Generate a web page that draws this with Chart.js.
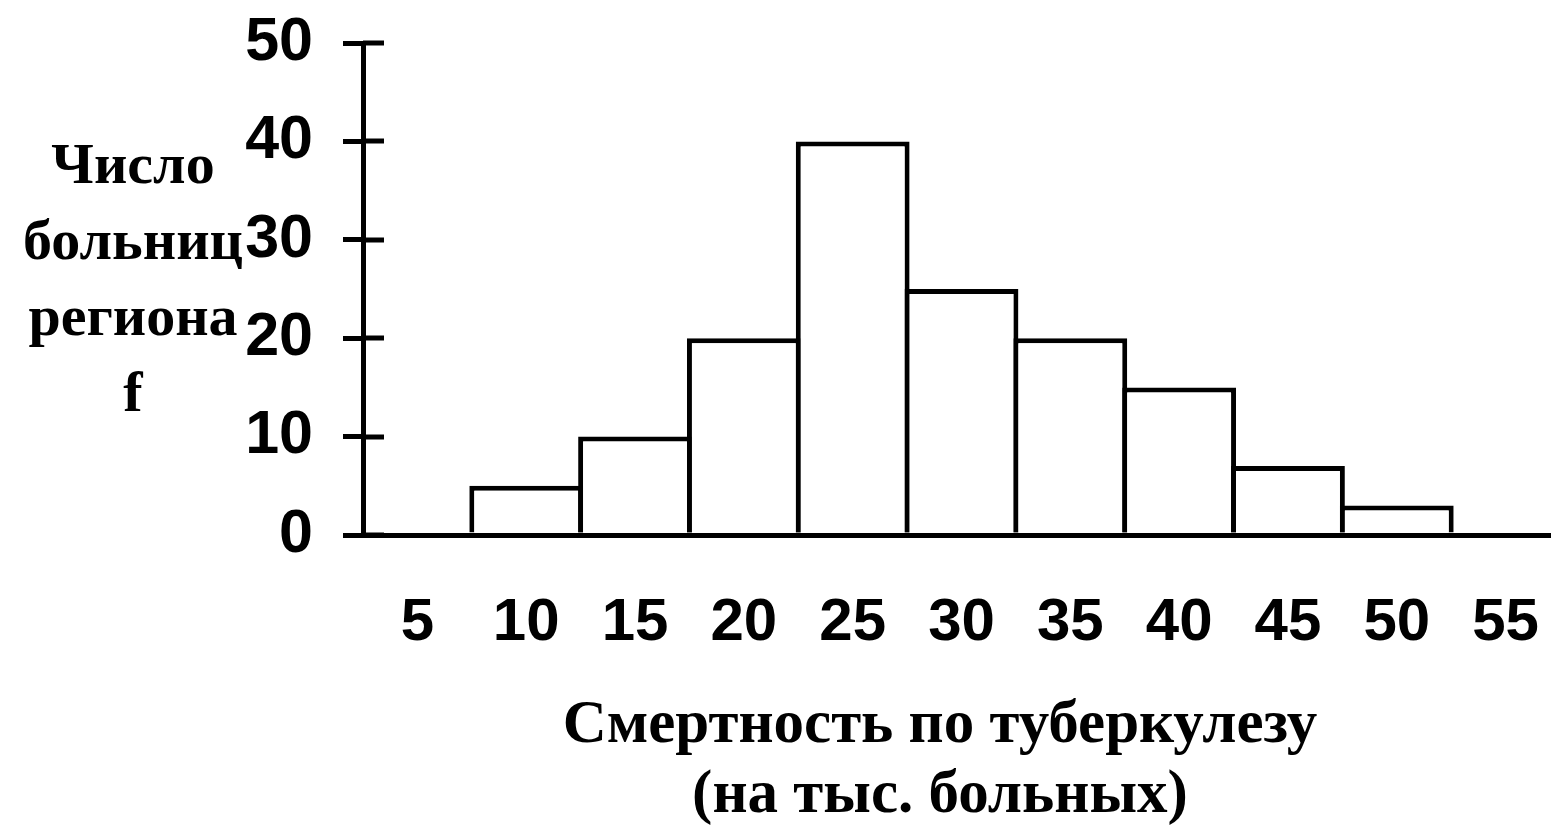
<!DOCTYPE html>
<html>
<head>
<meta charset="utf-8">
<script src="https://cdn.jsdelivr.net/npm/chart.js@4/dist/chart.umd.min.js"></script>
<style>
  html, body { margin: 0; padding: 0; background: #fff; overflow: hidden; }
  /* the plot runs a few px past the right edge of the window, as in the original */
  #wrap { width: 1560px; height: 825px; }
</style>
</head>
<body>
<div id="wrap"><canvas id="chart-hist"></canvas></div>
<script>
// mortality bins (per thousand patients) and number of hospitals
const binLabels      = ['5', '10', '15', '20', '25', '30', '35', '40', '45', '50', '55']
const hospitalCounts = [0, 5, 10, 20, 40, 25, 20, 15, 7, 3, 0]

const yMin  = 0
const yMax  = 50
const yStep = 10

const yTitleLines = ['Число', 'больниц', 'региона', 'f']
const xTitleLines = ['Смертность по туберкулезу', '(на тыс. больных)']

const numFont   = '"Liberation Sans Narrow", "Arial Narrow", "Liberation Sans", Arial, sans-serif'
const titleFont = '"Liberation Serif", "Times New Roman", serif'

// short tick stubs to the right of the y axis + the two free-standing titles
const axisDecor = {
  id: 'axisDecor',
  afterDraw(chart) {
    const { ctx, chartArea, scales: { y } } = chart
    ctx.save()
    ctx.strokeStyle = '#000'
    ctx.lineWidth   = 5
    y.ticks.forEach(t => {
      const py = Math.round(y.getPixelForValue(t.value))
      ctx.beginPath()
      ctx.moveTo(chartArea.left, py)
      ctx.lineTo(chartArea.left + 21, py)
      ctx.stroke()
    })

    ctx.fillStyle    = '#000'
    ctx.textAlign    = 'center'
    ctx.textBaseline = 'alphabetic'

    ctx.font = `bold 58px ${titleFont}`
    const midY = (chartArea.top + chartArea.bottom) / 2
    yTitleLines.forEach((line, i) => {
      const off = (i - (yTitleLines.length - 1) / 2) * 76
      ctx.fillText(line, chartArea.left - 230, midY + 8 + off)
    })

    ctx.font = `bold 61px ${titleFont}`
    const midX = 940
    xTitleLines.forEach((line, i) => {
      ctx.fillText(line, midX, chartArea.bottom + 207 + i * 70)
    })
    ctx.restore()
  },
}

new Chart(document.getElementById('chart-hist'), {
  type: 'bar',
  data: {
    labels: binLabels,
    datasets: [{
      data:               hospitalCounts,
      backgroundColor:    '#fff',
      borderColor:        '#000',
      borderWidth:        5,
      borderSkipped:      'start',
      barPercentage:      1.046,
      categoryPercentage: 1,
    }],
  },
  options: {
    responsive: true, maintainAspectRatio: false,
    animation: false,
    layout: { padding: { top: 43, right: 0, left: 0, bottom: 0 } },
    plugins: { legend: { display: false }, tooltip: { enabled: false } },
    scales: {
      x: {
        afterFit: s => { s.height = 290; s.paddingLeft = 0; s.paddingRight = 0 },
        grid:   { display: false, drawTicks: false },
        border: { display: true, color: '#000', width: 5 },
        ticks:  { color: '#000', padding: 52, maxRotation: 0, autoSkip: false,
                  font: { family: numFont, size: 60, weight: 'bold' } },
      },
      y: {
        min: yMin, max: yMax,
        afterFit: s => { s.width = 363; s.paddingTop = 0; s.paddingBottom = 0 },
        grid:   { drawOnChartArea: false, drawTicks: true, tickLength: 20, lineWidth: 5, color: '#000' },
        border: { display: true, color: '#000', width: 5 },
        ticks:  { stepSize: yStep, color: '#000', padding: 30,
                  font: { family: numFont, size: 61, weight: 'bold' } },
      },
    },
  },
  plugins: [axisDecor],
})
</script>
</body>
</html>
